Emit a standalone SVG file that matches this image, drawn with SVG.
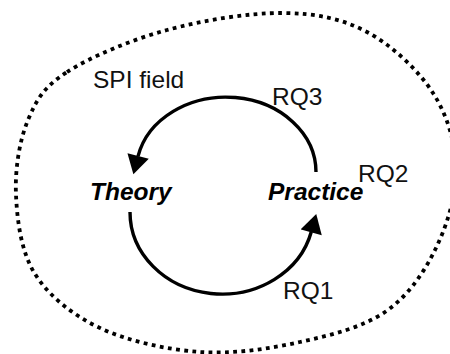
<svg xmlns="http://www.w3.org/2000/svg" width="450" height="354" viewBox="0 0 450 354">
  <style>
    .label { font-family: "Liberation Sans", Arial, sans-serif; font-size: 24.5px; fill: #111; }
    .node { font-weight: bold; font-style: italic; fill: #000; }
    .field { fill: none; stroke: #000; stroke-width: 3.8; stroke-dasharray: 3.8 4.4; }
    .flow { fill: none; stroke: #000; stroke-width: 3.4; }
  </style>
  <defs>
    <marker id="head" markerUnits="userSpaceOnUse" markerWidth="20" markerHeight="22" viewBox="0 0 19 22" refX="0.5" refY="11" orient="auto">
      <path d="M0,0 L19,11 L0,22 z" fill="#000"/>
    </marker>
  </defs>
  <rect width="450" height="354" fill="#fff"/>

  <!-- dotted boundary of the field -->
  <g id="spi-field">
    <path class="field" d="M67,72 C90.2,57 131,39.8 167,30 C203,20.2 249.7,12.7 283,13 C316.3,13.3 342,18.7 367,32 C392,45.3 418.2,70 433,93 C447.8,116 455.7,143.8 456,170 C456.3,196.2 446.8,226.3 435,250 C423.2,273.7 407.5,296.7 385,312 C362.5,327.3 330.8,335.3 300,342 C269.2,348.7 233.3,354.3 200,352 C166.7,349.7 127.5,341 100,328 C72.5,315 49,296.2 35,274 C21,251.8 17.2,220.7 16,195 C14.8,169.3 19.5,140.5 28,120 C36.5,99.5 43.8,87 67,72 Z"/>
    <text class="label" x="93" y="88">SPI field</text>
  </g>

  <g id="theory">
    <text class="label node" x="90" y="200">Theory</text>
  </g>

  <g id="practice">
    <text class="label node" x="268" y="200">Practice</text>
  </g>

  <!-- research questions -->
  <g id="connectors">
    <path id="rq3-arc" class="flow" d="M316,172 A90,75 0 0 0 138,156.4" marker-end="url(#head)"/>
    <path id="rq1-arc" class="flow" d="M130,212 A92,82 0 0 0 311.3,231.8" marker-end="url(#head)"/>
    <text class="label" x="272" y="105">RQ3</text>
    <text class="label" x="358" y="182">RQ2</text>
    <text class="label" x="283" y="299">RQ1</text>
  </g>
</svg>
